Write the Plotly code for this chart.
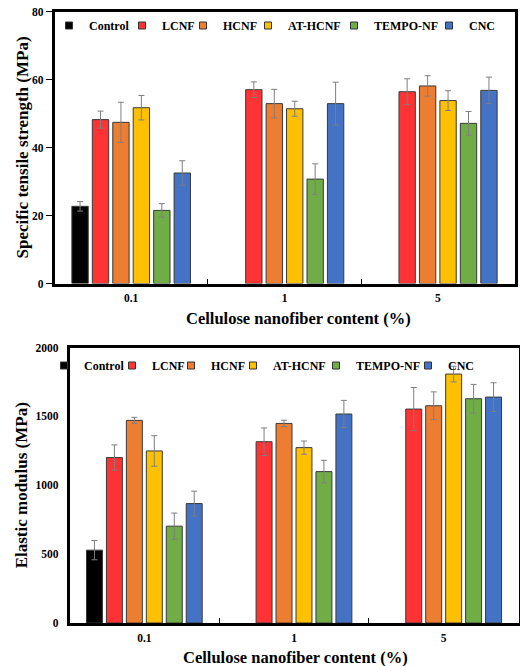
import plotly.graph_objects as go

W, H = 520, 666

groups = ["0.1", "1", "5"]
series = ["Control", "LCNF", "HCNF", "AT-HCNF", "TEMPO-NF", "CNC"]
colors = ["#000000", "#FF3333", "#ED7D31", "#FFC000", "#70AD47", "#4472C4"]

# Specific tensile strength (MPa)
control_ts = [22.7, None, None]
lcnf_ts = [48.2, 57.0, 56.4]
hcnf_ts = [47.4, 52.9, 58.1]
athcnf_ts = [51.7, 51.4, 53.8]
tempo_ts = [21.5, 30.7, 47.1]
cnc_ts = [32.5, 52.9, 56.8]

control_ts_err = [1.4, None, None]
lcnf_ts_err = [2.5, 2.3, 3.8]
hcnf_ts_err = [5.9, 4.2, 3.0]
athcnf_ts_err = [3.6, 2.2, 2.9]
tempo_ts_err = [2.0, 4.5, 3.5]
cnc_ts_err = [3.6, 6.3, 3.9]

# Elastic modulus (MPa)
control_em = [529, None, None]
lcnf_em = [1201, 1316, 1553]
hcnf_em = [1471, 1449, 1577]
athcnf_em = [1249, 1273, 1807]
tempo_em = [703, 1099, 1628]
cnc_em = [867, 1517, 1640]

control_em_err = [70, None, None]
lcnf_em_err = [92, 100, 157]
hcnf_em_err = [22, 23, 101]
athcnf_em_err = [111, 48, 57]
tempo_em_err = [95, 82, 104]
cnc_em_err = [90, 99, 104]

ts_vals = [control_ts, lcnf_ts, hcnf_ts, athcnf_ts, tempo_ts, cnc_ts]
ts_errs = [control_ts_err, lcnf_ts_err, hcnf_ts_err, athcnf_ts_err, tempo_ts_err, cnc_ts_err]
em_vals = [control_em, lcnf_em, hcnf_em, athcnf_em, tempo_em, cnc_em]
em_errs = [control_em_err, lcnf_em_err, hcnf_em_err, athcnf_em_err, tempo_em_err, cnc_em_err]

FONT = "Liberation Serif, Times New Roman, serif"
top_lw = [28, 16, 20, 41, 50, 30]
bot_lw = [23, 14, 17, 38, 47, 30]

fig = go.Figure()


def add_panel(vals, errs, lws, legend, xa, ya):
    for i, name in enumerate(series):
        fig.add_trace(go.Bar(
            x=groups, y=vals[i], name=name, showlegend=False,
            marker=dict(color=colors[i], line=dict(color="#3a3a3a", width=1)),
            error_y=dict(type="data", array=errs[i], color="#7f7f7f", thickness=1, width=3),
            xaxis=xa, yaxis=ya))
    # legend keys (small square swatches, like the original)
    for i, name in enumerate(series):
        fig.add_trace(go.Scatter(
            x=[None], y=[None], mode="markers", name=name, legend=legend,
            legendwidth=lws[i], hoverinfo="skip",
            marker=dict(symbol="square", size=7, color=colors[i],
                        line=dict(color="#333333", width=1)),
            xaxis=xa, yaxis=ya))


add_panel(ts_vals, ts_errs, top_lw, "legend", "x", "y")
add_panel(em_vals, em_errs, bot_lw, "legend2", "x2", "y2")

bold = dict(family=FONT, color="black", weight="bold")
tickfont = dict(size=11.5, **bold)
titlefont_x = dict(size=16.5, **bold)
titlefont_y = dict(size=17, **bold)

xcommon = dict(type="category", showline=True, linecolor="black", linewidth=2.5, mirror=True,
               ticks="inside", tickson="boundaries", ticklen=5, tickcolor="black", tickwidth=1,
               tickfont=tickfont, showgrid=False, automargin=False, zeroline=False,
               ticklabelstandoff=2, categoryorder="array", categoryarray=groups)
ycommon = dict(showline=True, linecolor="black", linewidth=2.5, mirror=True, showgrid=False,
               zeroline=False, tickfont=tickfont, automargin=False)

legend_common = dict(orientation="h", xanchor="left", yanchor="top",
                     font=dict(size=12, **bold), bgcolor="rgba(0,0,0,0)", itemwidth=30,
                     itemsizing="trace", tracegroupgap=0)

fig.update_layout(
    width=W, height=H, margin=dict(l=0, r=0, t=0, b=0),
    paper_bgcolor="white", plot_bgcolor="white",
    barmode="group", bargap=0.2, bargroupgap=0.2,
    xaxis=dict(domain=[54.5 / W, 514.5 / W], anchor="y", **xcommon),
    yaxis=dict(domain=[1 - 283.5 / H, 1 - 11.5 / H], anchor="x", range=[0, 80], dtick=20,
               ticks="outside", ticklen=6, tickcolor="black",
               title=dict(text="Specific tensile strength (MPa)", font=titlefont_y, standoff=0),
               **ycommon),
    xaxis2=dict(domain=[69.5 / W, 518.5 / W], anchor="y2", **xcommon),
    yaxis2=dict(domain=[1 - 623 / H, 1 - 347.5 / H], anchor="x2", range=[0, 2000], dtick=500,
                ticks="", ticklabelstandoff=6,
                title=dict(text="Elastic modulus (MPa)", font=titlefont_y, standoff=4),
                **ycommon),
    legend=dict(x=49 / W, y=1 - 11 / H, **legend_common),
    legend2=dict(x=44 / W, y=1 - 351 / H, **legend_common),
    showlegend=True,
    annotations=[
        dict(text="Cellulose nanofiber content (%)", xref="paper", yref="paper",
             x=298 / W, y=1 - 318 / H, xanchor="center", yanchor="middle",
             showarrow=False, font=titlefont_x),
        dict(text="Cellulose nanofiber content (%)", xref="paper", yref="paper",
             x=295 / W, y=1 - 657 / H, xanchor="center", yanchor="middle",
             showarrow=False, font=titlefont_x),
    ],
)

fig.write_html("out.html", config={"displayModeBar": False},
               post_script="document.body.style.margin='0';document.body.style.overflow='hidden';")
